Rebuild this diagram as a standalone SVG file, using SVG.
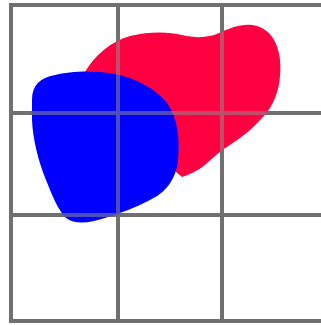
<svg xmlns="http://www.w3.org/2000/svg" width="321" height="325" viewBox="0 0 321 325">
<style>
.grid{stroke:#707070;stroke-width:4;fill:none}
.gridtop{stroke:#8c8c8c;stroke-width:4;fill:none;opacity:0.55}
</style>
<defs>
<g id="lines">
<line x1="11" y1="3" x2="11" y2="323"/>
<line x1="118" y1="3" x2="118" y2="323"/>
<line x1="222" y1="3" x2="222" y2="323"/>
<line x1="9" y1="5" x2="321" y2="5"/>
<line x1="9" y1="113" x2="321" y2="113"/>
<line x1="9" y1="215" x2="321" y2="215"/>
<line x1="9" y1="321" x2="321" y2="321"/>
</g>
<path id="redShape" d="M85,72 C95,55 110,42 130,36 C150,31 170,32 182,35 C195,38 205,38 217,34 C230,28 240,24 252,25 C268,27 278,40 280,60 C282,85 275,105 262,118 C250,132 235,142 222,150 C210,160 200,172 182,177 L150,150 L90,100 Z"/>
<path id="blueShape" d="M32,100 C32,85 40,78 55,75 C70,71 95,70 115,74 C135,78 155,88 167,103 C178,118 180,140 178,160 C176,180 165,193 150,200 C135,208 120,213 105,218 C90,223 75,225 66,218 C58,210 52,195 46,180 C38,160 33,140 32,120 Z"/>
<clipPath id="blobs">
<use href="#redShape"/>
<use href="#blueShape"/>
</clipPath>
</defs>
<rect width="321" height="325" fill="#ffffff"/>
<use href="#lines" class="grid"/>
<use id="red" href="#redShape" fill="#ff0040"/>
<use id="blue" href="#blueShape" fill="#0000ff"/>
<use href="#lines" class="gridtop" clip-path="url(#blobs)"/>
</svg>
